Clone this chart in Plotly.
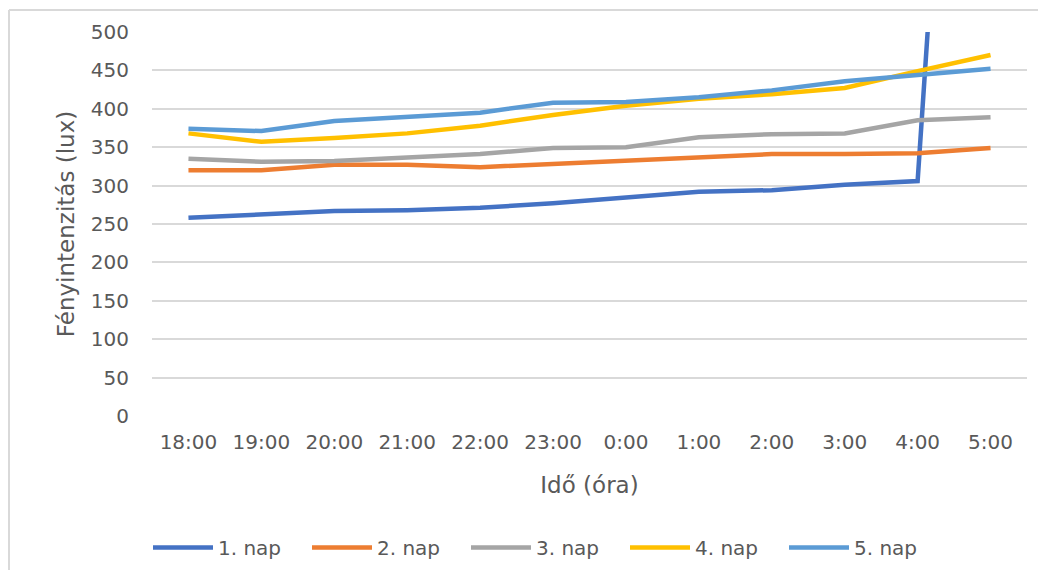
import plotly.graph_objects as go

categories = ["18:00", "19:00", "20:00", "21:00", "22:00", "23:00",
              "0:00", "1:00", "2:00", "3:00", "4:00", "5:00"]
nap1 = [258, 262, 267, 268, 271, 277, 285, 292, 294, 301, 306, 1720]
nap2 = [320, 320, 327, 327, 324, 328, 332, 336, 341, 341, 342, 349]
nap3 = [335, 331, 332, 336, 341, 349, 350, 363, 367, 368, 385, 389]
nap4 = [368, 357, 362, 368, 378, 392, 404, 413, 419, 427, 449, 470]
nap5 = [374, 371, 384, 389, 395, 408, 409, 415, 424, 436, 444, 452]
series_names = ["1. nap", "2. nap", "3. nap", "4. nap", "5. nap"]
series_values = [nap1, nap2, nap3, nap4, nap5]
colors = ["#4472C4", "#ED7D31", "#A5A5A5", "#FFC000", "#5B9BD5"]
y_ticks = list(range(0, 501, 50))

FONT = "DejaVu Sans"
TXT = "#595959"
OFF = 8  # page body margin
W, H = 1046 - 2 * OFF, 578 - 2 * OFF
L, T = 152 - OFF, 32 - OFF
R = W - (1027 - OFF)
B = H - (416 - OFF)

fig = go.Figure()
for name, vals, c in zip(series_names, series_values, colors):
    fig.add_trace(go.Scatter(x=categories, y=vals, name=name, mode="lines",
                             line=dict(color=c, width=4.5)))

pw, ph = W - L - R, H - T - B
def px(xp): return (xp - OFF - L) / pw
def py(yp): return (H - B - (yp - OFF)) / ph

fig.update_layout(
    width=W, height=H,
    margin=dict(l=L, r=R, t=T, b=B, pad=0, autoexpand=False),
    paper_bgcolor="white", plot_bgcolor="white",
    font=dict(family=FONT, size=17, color=TXT),
    showlegend=True,
    legend=dict(orientation="h", x=px(148), xanchor="left", y=py(567), yanchor="bottom",
                font=dict(size=20, color=TXT), itemwidth=60, tracegroupgap=0,
                entrywidth=84, entrywidthmode="pixels"),
    xaxis=dict(type="category", categoryorder="array", categoryarray=categories,
               showgrid=False, zeroline=False, showline=False, ticks="",
               tickfont=dict(size=20, color=TXT), ticklabelstandoff=12,
               title=dict(text="Idő (óra)", font=dict(size=23, color=TXT), standoff=23),
               range=[-0.5, 11.5], automargin=False),
    yaxis=dict(range=[0, 500], tickvals=y_ticks, showgrid=True, gridcolor="#D9D9D9",
               gridwidth=1.5, zeroline=False, showline=False, ticks="",
               tickfont=dict(size=20, color=TXT), ticklabelstandoff=22,
               title=dict(text="Fényintenzitás (lux)", font=dict(size=23, color=TXT), standoff=9),
               automargin=False),
)

fig.add_shape(type="line", xref="paper", yref="paper", x0=px(9), x1=px(1046), y0=py(10), y1=py(10),
              line=dict(color="#D9D9D9", width=2))
fig.add_shape(type="line", xref="paper", yref="paper", x0=px(9), x1=px(9), y0=py(10), y1=py(578),
              line=dict(color="#D9D9D9", width=2))

fig.write_html("out.html")
